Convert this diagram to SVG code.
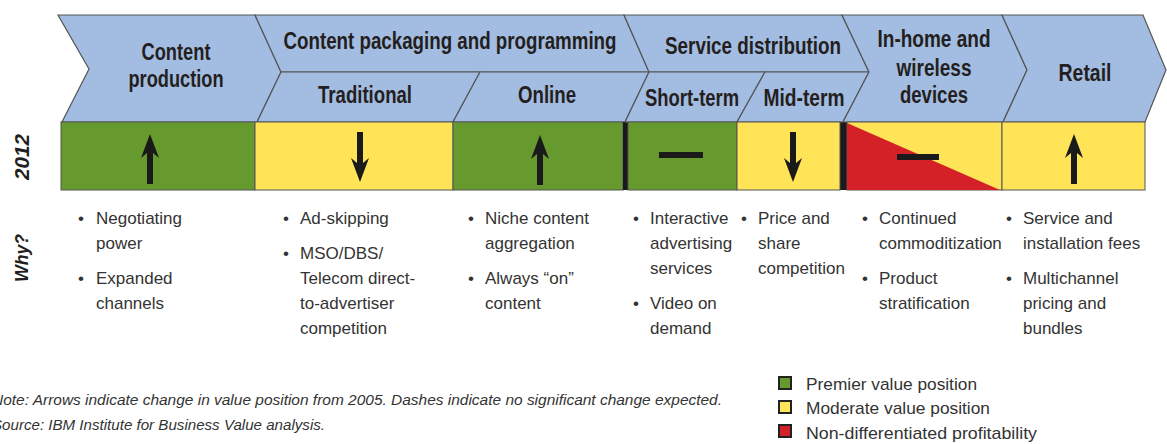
<svg xmlns="http://www.w3.org/2000/svg" width="1167" height="444" viewBox="0 0 1167 444">
<style>
.hdr{fill:#a3bce1;stroke:#555;stroke-width:1.2;stroke-linejoin:miter}
.cell{stroke:#555;stroke-width:1}
.g{fill:#679a2e}
.y{fill:#ffe458}
.r{fill:#d42027}
.blk{fill:#1a1a1a}
.ht{font-family:"Liberation Sans",Arial,sans-serif;font-weight:bold;font-size:23px;fill:#231f20;text-anchor:middle}
.bt{font-family:"Liberation Sans",Arial,sans-serif;font-size:17px;fill:#333}
.side{font-family:"Liberation Sans",Arial,sans-serif;font-weight:bold;font-style:italic;fill:#231f20;text-anchor:middle}
.ft{font-family:"Liberation Sans",Arial,sans-serif;font-style:italic;font-size:15px;fill:#333}
.lg{font-family:"Liberation Sans",Arial,sans-serif;font-size:17px;fill:#333}
.sw{stroke:#222;stroke-width:2}
</style>
<defs>
<path id="up" d="M0,-50 L9,-26 L3,-31 L3,0 L-3,0 L-3,-31 L-9,-26 Z" fill="#1a1a1a"/>
</defs>
<rect width="1167" height="444" fill="#fff"/>

<g id="connectors"/>

<g id="side-labels">
<text class="side" font-size="20" transform="translate(29,157) rotate(-90)" textLength="46" lengthAdjust="spacingAndGlyphs">2012</text>
<text class="side" font-size="18" transform="translate(28,258) rotate(-90)" textLength="48" lengthAdjust="spacingAndGlyphs">Why?</text>
</g>

<g id="content-production">
<polygon class="hdr" points="58,15 255,15 281,72 257,122 62,122 89,69"/>
<text class="ht" x="176" y="60" textLength="69" lengthAdjust="spacingAndGlyphs">Content</text>
<text class="ht" x="176" y="87" textLength="95" lengthAdjust="spacingAndGlyphs">production</text>
<rect class="cell g" x="61" y="122" width="194" height="68"/>
<use href="#up" x="150" y="184"/>
<text class="bt"><tspan x="78" y="224">•</tspan><tspan x="96" y="224">Negotiating</tspan><tspan x="96" y="249">power</tspan><tspan x="78" y="284">•</tspan><tspan x="96" y="284">Expanded</tspan><tspan x="96" y="309">channels</tspan></text>
</g>

<g id="content-packaging">
<polygon class="hdr" points="255,15 624,15 649,72 281,72"/>
<text class="ht" x="450" y="49" textLength="333" lengthAdjust="spacingAndGlyphs">Content packaging and programming</text>
</g>

<g id="traditional">
<polygon class="hdr" points="281,72 480,72 453,122 257,122"/>
<text class="ht" x="365" y="103" textLength="94" lengthAdjust="spacingAndGlyphs">Traditional</text>
<rect class="cell y" x="255" y="122" width="198" height="68"/>
<use href="#up" transform="translate(360,132) scale(1,-1)"/>
<text class="bt"><tspan x="283" y="224">•</tspan><tspan x="300" y="224">Ad-skipping</tspan><tspan x="283" y="259">•</tspan><tspan x="300" y="259">MSO/DBS/</tspan><tspan x="300" y="284">Telecom direct-</tspan><tspan x="300" y="309">to-advertiser</tspan><tspan x="300" y="334">competition</tspan></text>
</g>

<g id="online">
<polygon class="hdr" points="480,72 649,72 625,122 453,122"/>
<text class="ht" x="547" y="103" textLength="58" lengthAdjust="spacingAndGlyphs">Online</text>
<rect class="cell g" x="453" y="122" width="170" height="68"/>
<use href="#up" x="540" y="185"/>
<text class="bt"><tspan x="468" y="224">•</tspan><tspan x="485" y="224">Niche content</tspan><tspan x="485" y="249">aggregation</tspan><tspan x="468" y="284">•</tspan><tspan x="485" y="284">Always “on”</tspan><tspan x="485" y="309">content</tspan></text>
</g>

<g id="service-distribution">
<polygon class="hdr" points="624,15 842,15 869,72 649,72"/>
<text class="ht" x="753" y="54" textLength="176" lengthAdjust="spacingAndGlyphs">Service distribution</text>
<rect class="blk" x="623" y="122" width="5" height="68"/>
<rect class="blk" x="840" y="122" width="7" height="68"/>
</g>

<g id="short-term">
<polygon class="hdr" points="649,72 765,72 737,122 625,122"/>
<text class="ht" x="692" y="106" textLength="94" lengthAdjust="spacingAndGlyphs">Short-term</text>
<rect class="cell g" x="628" y="122" width="109" height="68"/>
<rect class="blk" x="659" y="152" width="44" height="6"/>
<text class="bt"><tspan x="633" y="224">•</tspan><tspan x="650" y="224">Interactive</tspan><tspan x="650" y="249">advertising</tspan><tspan x="650" y="274">services</tspan><tspan x="633" y="309">•</tspan><tspan x="650" y="309">Video on</tspan><tspan x="650" y="334">demand</tspan></text>
</g>

<g id="mid-term">
<polygon class="hdr" points="765,72 869,72 843,122 737,122"/>
<text class="ht" x="804" y="106" textLength="81" lengthAdjust="spacingAndGlyphs">Mid-term</text>
<rect class="cell y" x="737" y="122" width="103" height="68"/>
<use href="#up" transform="translate(793,132) scale(1,-1)"/>
<text class="bt"><tspan x="741" y="224">•</tspan><tspan x="758" y="224">Price and</tspan><tspan x="758" y="249">share</tspan><tspan x="758" y="274">competition</tspan></text>
</g>

<g id="in-home-wireless">
<polygon class="hdr" points="842,15 1002,15 1027,70 1003,122 843,122 869,72"/>
<text class="ht" x="934" y="47" textLength="113" lengthAdjust="spacingAndGlyphs">In-home and</text>
<text class="ht" x="934" y="76" textLength="75" lengthAdjust="spacingAndGlyphs">wireless</text>
<text class="ht" x="934" y="103" textLength="68" lengthAdjust="spacingAndGlyphs">devices</text>
<rect class="cell y" x="847" y="122" width="155" height="68"/>
<polygon class="r" points="847,123 847,190 1000,190"/>
<rect class="blk" x="897" y="154" width="42" height="6"/>
<text class="bt"><tspan x="862" y="224">•</tspan><tspan x="879" y="224">Continued</tspan><tspan x="879" y="249">commoditization</tspan><tspan x="862" y="284">•</tspan><tspan x="879" y="284">Product</tspan><tspan x="879" y="309">stratification</tspan></text>
</g>

<g id="retail">
<polygon class="hdr" points="1002,15 1143,15 1166,70 1145,122 1003,122 1027,70"/>
<text class="ht" x="1085" y="81" textLength="53" lengthAdjust="spacingAndGlyphs">Retail</text>
<rect class="cell y" x="1002" y="122" width="143" height="68"/>
<use href="#up" x="1074" y="184"/>
<text class="bt"><tspan x="1006" y="224">•</tspan><tspan x="1023" y="224">Service and</tspan><tspan x="1023" y="249">installation fees</tspan><tspan x="1006" y="284">•</tspan><tspan x="1023" y="284">Multichannel</tspan><tspan x="1023" y="309">pricing and</tspan><tspan x="1023" y="334">bundles</tspan></text>
</g>

<g id="footnote">
<text class="ft" x="-8" y="405" textLength="730" lengthAdjust="spacingAndGlyphs">Note: Arrows indicate change in value position from 2005. Dashes indicate no significant change expected.</text>
<text class="ft" x="-8" y="430" textLength="333" lengthAdjust="spacingAndGlyphs">Source: IBM Institute for Business Value analysis.</text>
</g>

<g id="legend">
<rect class="sw g" x="779" y="377" width="12" height="12"/>
<text class="lg" x="806" y="390" textLength="171" lengthAdjust="spacingAndGlyphs">Premier value position</text>
<rect class="sw y" x="779" y="401" width="12" height="12"/>
<text class="lg" x="806" y="414" textLength="184" lengthAdjust="spacingAndGlyphs">Moderate value position</text>
<rect class="sw r" x="779" y="425" width="12" height="12"/>
<text class="lg" x="806" y="439" textLength="231" lengthAdjust="spacingAndGlyphs">Non-differentiated profitability</text>
</g>
</svg>
